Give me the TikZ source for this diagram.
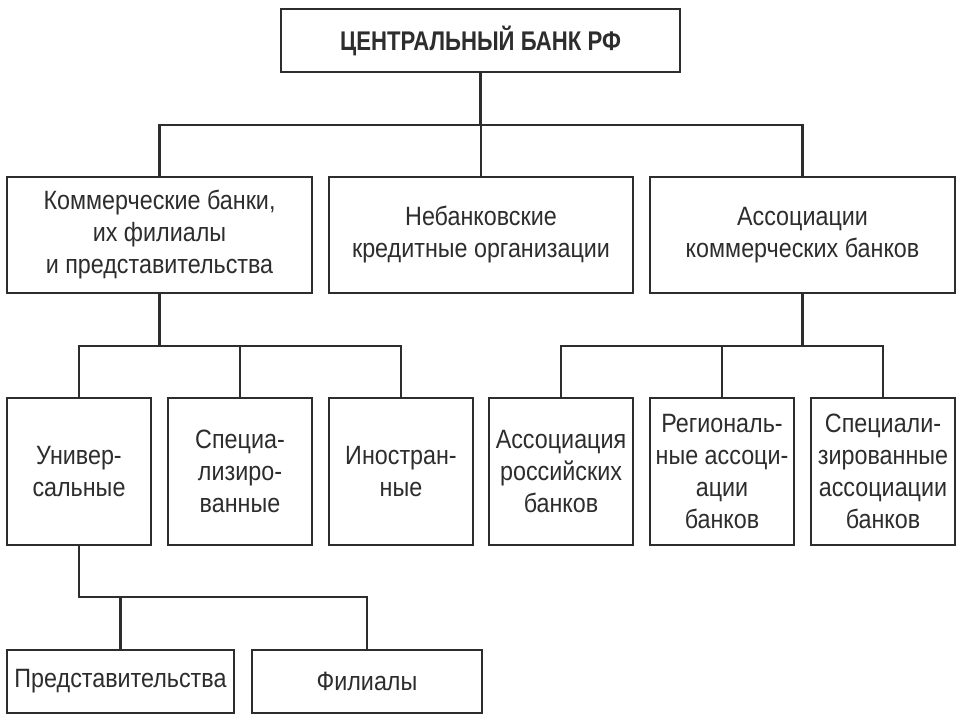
\documentclass[tikz,border=0pt]{standalone}
\usepackage{fontspec}
\setmainfont{Liberation Sans}
\newfontfamily\bodyfont[FakeStretch=0.88]{Liberation Sans}
\newfontfamily\titlefont[FakeStretch=0.82]{Liberation Sans}
\definecolor{ink}{RGB}{45,45,45}
\begin{document}
\begin{tikzpicture}[x=1pt,y=-1pt,
  box/.style={draw=ink,line width=2.8pt,rectangle,inner sep=0pt,align=center,
    text=ink,font=\bodyfont\fontsize{26.5}{32}\selectfont},
  wire/.style={draw=ink,line width=2.8pt}]
\useasboundingbox (0,0) rectangle (960,720);
\fill[white] (0,0) rectangle (960,720);
% top
\node[box,minimum width=399pt,minimum height=63pt,font=\titlefont\bfseries\fontsize{27}{30}\selectfont] (top) at (480.5,40.5) {ЦЕНТРАЛЬНЫЙ БАНК РФ};
% row 2
\node[box,minimum width=305pt,minimum height=116pt] (kb) at (159.5,235) {Коммерческие банки,\\их филиалы\\и представительства};
\node[box,minimum width=304pt,minimum height=116pt] (nb) at (481,235) {Небанковские\\кредитные организации};
\node[box,minimum width=305pt,minimum height=116pt] (ak) at (802.5,235) {Ассоциации\\коммерческих банков};
% row 3
\node[box,minimum width=144pt,minimum height=147pt] (un) at (79,471.5) {Универ-\\сальные};
\node[box,minimum width=144pt,minimum height=147pt] (sp) at (240,471.5) {Специа-\\лизиро-\\ванные};
\node[box,minimum width=144pt,minimum height=147pt] (ino) at (401,471.5) {Иностран-\\ные};
\node[box,minimum width=144pt,minimum height=147pt] (ar) at (561,471.5) {Ассоциация\\российских\\банков};
\node[box,minimum width=144pt,minimum height=147pt] (ra) at (722,471.5) {Региональ-\\ные ассоци-\\ации\\банков};
\node[box,minimum width=144pt,minimum height=147pt] (sa) at (883,471.5) {Специали-\\зированные\\ассоциации\\банков};
% row 4
\node[box,minimum width=227pt,minimum height=63pt] (pr) at (120.5,681.5) {Представительства};
\node[box,minimum width=230pt,minimum height=63pt] (fi) at (367,681.5) {Филиалы};
% buses
\coordinate (b1) at (0,125);
\coordinate (b2) at (0,346);
\coordinate (b3) at (0,597);
% connectors
\draw[wire] (top.south) -- (top.south |- b1);
\draw[wire] (kb.north) |- (ak.north |- b1) -- (ak.north);
\draw[wire] (nb.north) -- (nb.north |- b1);
\draw[wire] (kb.south) -- (kb.south |- b2);
\draw[wire] (un.north) |- (ino.north |- b2) -- (ino.north);
\draw[wire] (sp.north) -- (sp.north |- b2);
\draw[wire] (ak.south) -- (ak.south |- b2);
\draw[wire] (ar.north) |- (sa.north |- b2) -- (sa.north);
\draw[wire] (ra.north) -- (ra.north |- b2);
\draw[wire] (un.south) |- (fi.north |- b3) -- (fi.north);
\draw[wire] (pr.north) -- (pr.north |- b3);
\end{tikzpicture}
\end{document}
